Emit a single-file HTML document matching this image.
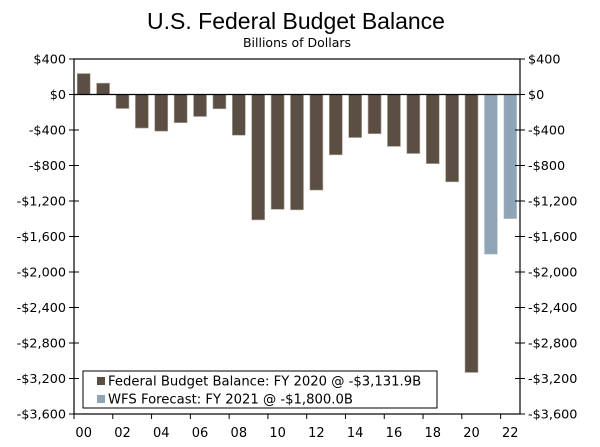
<!DOCTYPE html>
<html><head><meta charset="utf-8"><style>
body{margin:0;background:#fff;}
svg text{font-family:"DejaVu Sans","Liberation Sans",sans-serif;fill:#000;}
</style></head><body>
<svg id="c" width="600" height="442" xmlns="http://www.w3.org/2000/svg">
<text x="296" y="29" text-anchor="middle" font-size="23" style="font-family:'Liberation Sans',sans-serif">U.S. Federal Budget Balance</text>
<text x="297" y="47" text-anchor="middle" font-size="12.5">Billions of Dollars</text>
<g id="plot"></g>
<g>
<rect x="83" y="371" width="354" height="37" fill="#fff" stroke="#000" stroke-width="1"/>
<rect x="97" y="377" width="8" height="8" fill="#5b4f43"/>
<text x="108" y="385.5" font-size="13.2">Federal Budget Balance: FY 2020 @ -$3,131.9B</text>
<rect x="97" y="395" width="8" height="8" fill="#8fa5b5"/>
<text x="108" y="403.5" font-size="13.2">WFS Forecast: FY 2021 @ -$1,800.0B</text>
</g>
</svg>
<script>
const years = ["00","01","02","03","04","05","06","07","08","09","10","11","12","13","14","15","16","17","18","19","20","21","22"];
const balances = [236,128,-158,-378,-413,-318,-248,-161,-459,-1413,-1294,-1300,-1077,-680,-485,-442,-585,-665,-779,-984,-3132,-1800,-1400];
const isForecast = [0,0,0,0,0,0,0,0,0,0,0,0,0,0,0,0,0,0,0,0,0,1,1];
const yTicks = [400,0,-400,-800,-1200,-1600,-2000,-2400,-2800,-3200,-3600];
const yTickLabels = ["$400","$0","-$400","-$800","-$1,200","-$1,600","-$2,000","-$2,400","-$2,800","-$3,200","-$3,600"];

const NS="http://www.w3.org/2000/svg";
const g=document.getElementById('plot');
const L=74,R=520,T=59,B=414;
const yMax=400,yMin=-3600;
const y=v=>T+(yMax-v)/(yMax-yMin)*(B-T);
const band=(R-L)/years.length;
const x=i=>L+i*band;
function mk(t,a){const e=document.createElementNS(NS,t);for(const k in a)e.setAttribute(k,a[k]);g.appendChild(e);return e;}

balances.forEach((v,i)=>{
  const bw=13, cx=x(i)+band/2;
  const r=mk('rect',{x:cx-bw/2,y:Math.min(y(v),y(0)),width:bw,height:Math.abs(y(v)-y(0)),fill:isForecast[i]?'#8fa5b5':'#5b4f43',stroke:isForecast[i]?'#c5d0d8':'#b0a89f','stroke-width':0.6});
  
  
  if(i%2===0){
    const t=mk('text',{x:cx,y:437,'text-anchor':'middle','font-size':13});
    t.textContent=years[i];
    
    
  }
});
const fr=mk('rect',{x:L,y:T,width:R-L,height:B-T,fill:'none',stroke:'#000','stroke-width':1.2});


const z=mk('line',{x1:L,x2:R,y1:y(0),y2:y(0),stroke:'#000','stroke-width':1.2});


for(let i=0;i<=years.length;i+=2){
  const tk=mk('line',{x1:x(i),x2:x(i),y1:B,y2:B+5,stroke:'#000'});
  
  
}
yTicks.forEach((v,i)=>{
  const yy=y(v);
  const a=mk('line',{x1:L-5,x2:L+5,y1:yy,y2:yy,stroke:'#000'});
  
  
  const b=mk('line',{x1:R-5,x2:R+5,y1:yy,y2:yy,stroke:'#000'});
  
  
  const t1=mk('text',{x:L-8,y:yy+4.5,'text-anchor':'end','font-size':12.8});
  t1.textContent=yTickLabels[i];
  
  
  const t2=mk('text',{x:R+8,y:yy+4.5,'text-anchor':'start','font-size':12.8});
  t2.textContent=yTickLabels[i];
  
  
});
</script>
</body></html>
